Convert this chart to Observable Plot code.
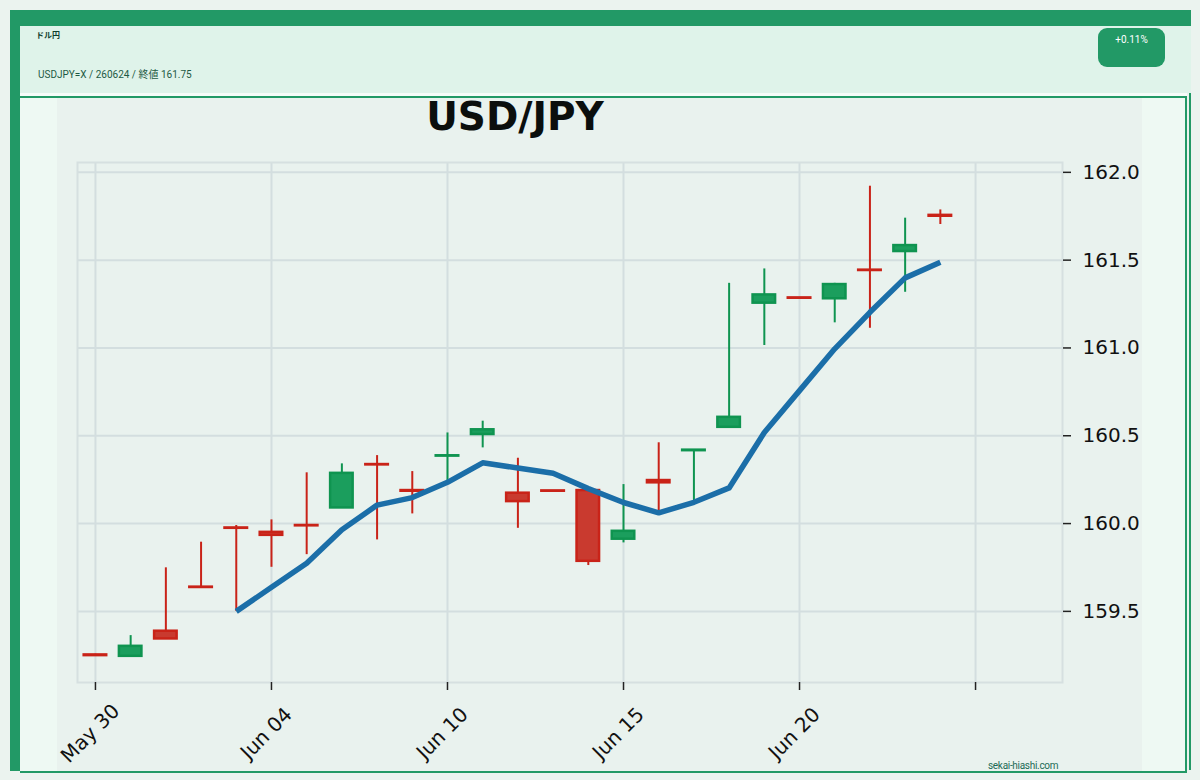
<!DOCTYPE html>
<html>
<head>
<meta charset="utf-8">
<script src="https://cdn.jsdelivr.net/npm/d3@7"></script>
<script src="https://cdn.jsdelivr.net/npm/@observablehq/plot@0.6"></script>
<style>
  html, body { margin: 0; padding: 0; }
  body { width: 1200px; height: 780px; background: #EBF3EF; position: relative; overflow: hidden; font-family: Roboto, "Noto Sans CJK JP", sans-serif; }
  .abs { position: absolute; }
  #topbar { left: 10px; top: 10px; width: 1181px; height: 16px; background: #229966; }
  #leftbar { left: 10px; top: 10px; width: 10px; height: 761px; background: #229966; }
  #header { left: 20px; top: 26px; width: 1171px; height: 67px; background: #DFF3EA; }
  #htitle { left: 16px; top: 3px; font-size: 8px; font-weight: bold; color: #0f3d2c; }
  #hsub { left: 18px; top: 40px; font-size: 10px; color: #1d5a44; white-space: nowrap; }
  #badge { left: 1078px; top: 2px; width: 67px; height: 39px; border-radius: 9px; background: #229966; color: #fff; font-size: 10px; text-align: center; line-height: 10px; padding-top: 7px; box-sizing: border-box; }
  #gap { left: 20px; top: 93px; width: 1167px; height: 3px; background: #F6FCF9; }
  #card { left: 20px; top: 96px; width: 1167px; height: 677px; box-sizing: border-box; border-top: 2px solid #229966; border-right: 2px solid #229966; border-bottom: 2px solid #229966; background: #EEF9F3; }
  #shadow { left: 1189px; top: 93px; width: 2px; height: 677px; background: #229966; }
  #figure { left: 57px; top: 98px; width: 1085px; height: 673px; background: #E9F2EE; }
  #chart svg { overflow: visible; }
  #title { left: 0; top: 0; width: 916px; text-align: center; font-family: "DejaVu Sans", sans-serif; font-weight: bold; font-size: 39px; color: #0b0f0d; line-height: 40px; }
  #credit { left: 988px; top: 760px; font-size: 10px; color: #1d6b55; font-family: Roboto, sans-serif; letter-spacing: -0.3px; }
</style>
</head>
<body>
<div id="topbar" class="abs"></div>
<div id="header" class="abs">
  <div id="htitle" class="abs">ドル円</div>
  <div id="hsub" class="abs">USDJPY=X / 260624 / 終値 161.75</div>
  <div id="badge" class="abs">+0.11%</div>
</div>
<div id="gap" class="abs"></div>
<div id="card" class="abs"></div>
<div id="shadow" class="abs"></div>
<div id="leftbar" class="abs"></div>
<div id="figure" class="abs">
  <div id="chart"></div>
  <div id="title" class="abs" style="top:-1px">USD/JPY</div>
</div>
<div id="credit" class="abs">sekai-hiashi.com</div>
<script>
// ---- data ----
const dates = ["May 30","May 31","Jun 01","Jun 02","Jun 03","Jun 04","Jun 05","Jun 06","Jun 07","Jun 09",
               "Jun 10","Jun 11","Jun 12","Jun 13","Jun 14","Jun 15","Jun 16","Jun 17","Jun 18","Jun 19",
               "Jun 20","Jun 21","Jun 22","Jun 23","Jun 24"];
const open  = [159.252,159.244,159.387,159.638,159.975,159.950,159.989,160.089,160.336,160.188,
               160.384,160.507,160.173,160.186,160.188,159.911,160.245,160.415,160.548,161.255,
               161.285,161.280,161.443,161.549,161.755];
const high  = [159.256,159.362,159.748,159.894,159.989,160.021,160.289,160.340,160.387,160.296,
               160.516,160.583,160.372,160.186,160.190,160.222,160.460,160.418,161.368,161.450,
               161.285,161.368,161.921,161.739,161.786];
const low   = [159.246,159.244,159.343,159.636,159.500,159.751,159.823,160.089,159.907,160.055,
               160.245,160.431,159.973,160.182,159.761,159.890,160.074,160.131,160.548,161.014,
               161.281,161.143,161.112,161.317,161.703];
const close = [159.248,159.301,159.343,159.636,159.973,159.933,159.987,160.286,160.334,160.184,
               160.386,160.534,160.125,160.184,159.785,159.956,160.232,160.418,160.605,161.302,
               161.283,161.361,161.441,161.583,161.750];
// 5-day moving average as drawn (starts at the 5th session)
const maStart = 4;
const ma5 = [159.500,159.637,159.774,159.965,160.105,160.148,160.235,160.346,160.316,160.286,
             160.199,160.120,160.061,160.121,160.203,160.518,160.757,160.995,161.203,161.399,161.488];
const xTicks = [0, 5, 10, 15, 20, 25];
const yTicks = [159.5, 160.0, 160.5, 161.0, 161.5, 162.0];

// ---- build tables ----
const candles = dates.map((d, i) => ({i, date: d, open: open[i], high: high[i], low: low[i], close: close[i], up: close[i] >= open[i]}));
const maData = ma5.map((v, k) => ({i: k + maStart, ma: v}));
const xLabels = xTicks.filter(i => dates[i] !== undefined).map(i => ({i, label: dates[i]}));

const upFill = "#1b9e5d", upLine = "#0f9450";
const dnFill = "#c93a2f", dnLine = "#c92318";
const grid = "#d3dedf";

const chart = Plot.plot({
  width: 1085,
  height: 672,
  marginLeft: 20,
  marginRight: 80,
  marginTop: 64,
  marginBottom: 88,
  style: {background: "transparent", fontFamily: "'DejaVu Sans', sans-serif", fontSize: "20px", color: "#111", overflow: "visible"},
  x: {type: "linear", domain: [-0.51, 27.47]},
  y: {domain: [159.095, 162.056]},
  marks: [
    Plot.gridX(xTicks, {stroke: grid, strokeOpacity: 1, strokeWidth: 2}),
    Plot.gridY(yTicks, {stroke: grid, strokeOpacity: 1, strokeWidth: 2}),
    Plot.frame({stroke: "#d6e0e0", strokeWidth: 2}),
    Plot.axisY(yTicks, {anchor: "right", tickSize: 8, tickPadding: 12, tickFormat: d => d.toFixed(1), stroke: "#222", strokeWidth: 1.5, fontSize: 20, label: null}),
    Plot.axisX(xTicks, {anchor: "bottom", tickSize: 8, text: null, stroke: "#222", strokeWidth: 1.5, label: null}),
    Plot.text(xLabels, {x: "i", text: "label", frameAnchor: "bottom", rotate: -45, textAnchor: "middle", lineAnchor: "middle", dx: -5, dy: 51, fontSize: 20, fill: "#111"}),
    Plot.ruleX(candles, {x: "i", y1: "low", y2: "high", stroke: d => d.up ? upLine : dnLine, strokeWidth: 2}),
    Plot.rect(candles, {x1: d => d.i - 0.32, x2: d => d.i + 0.32, y1: "open", y2: "close",
      fill: d => d.up ? upFill : dnFill, stroke: d => d.up ? upLine : dnLine, strokeWidth: 2.5}),
    Plot.line(maData, {x: "i", y: "ma", stroke: "#1b6ea8", strokeWidth: 5.5, strokeLinejoin: "round", strokeLinecap: "butt"})
  ]
});
document.getElementById("chart").appendChild(chart);
</script>
</body>
</html>
